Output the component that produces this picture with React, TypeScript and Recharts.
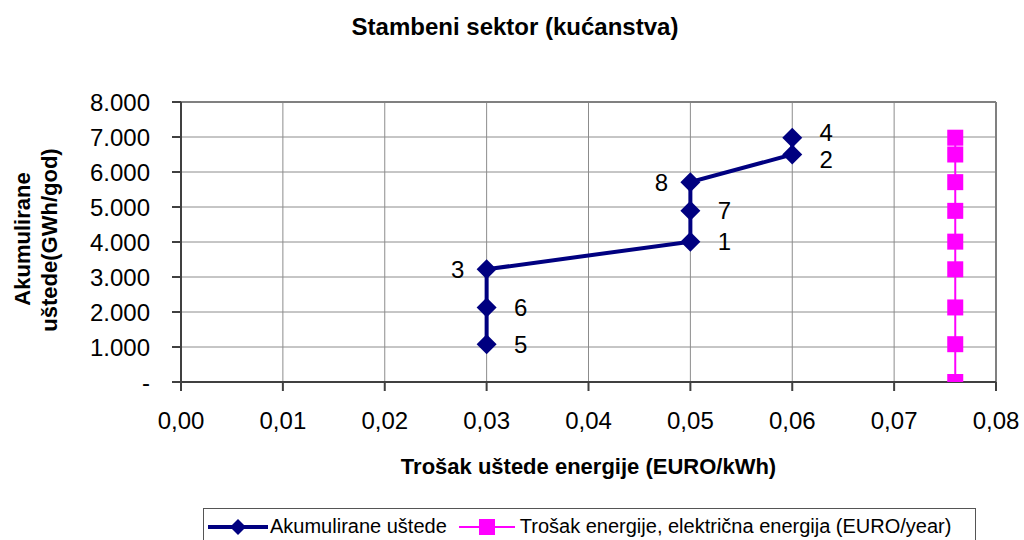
import React from 'react';
import { ScatterChart, Scatter, XAxis, YAxis, CartesianGrid, ReferenceLine } from 'recharts';

// Akumulirane uštede: cost of saved energy (EURO/kWh) vs cumulative savings (GWh/god)
const measureIds = ['5', '6', '3', '1', '7', '8', '2', '4'];
const savingCost = [0.03, 0.03, 0.03, 0.05, 0.05, 0.05, 0.06, 0.06];
const cumulativeSavings = [1080, 2130, 3220, 4010, 4890, 5710, 6500, 6980];
const labelSide = ['right', 'right', 'left', 'right', 'right', 'left', 'right', 'right'];

// Trošak energije, električna energija
const energyPrice = 0.076;
const energyPriceLevels = [0, 1080, 2130, 3220, 4010, 4890, 5710, 6500, 6980];

const xTicks = [0, 0.01, 0.02, 0.03, 0.04, 0.05, 0.06, 0.07, 0.08];
const yTicks = [0, 1000, 2000, 3000, 4000, 5000, 6000, 7000, 8000];

const TITLE = 'Stambeni sektor (kućanstva)';
const X_TITLE = 'Trošak uštede energije (EURO/kWh)';
const Y_TITLE = ['Akumulirane', 'uštede(GWh/god)'];
const LEGEND = ['Akumulirane uštede', 'Trošak energije, električna energija (EURO/year)'];

const NAVY = '#000080';
const MAGENTA = '#FF00FF';
const GRID = '#8c8c8c';
const AXIS = '#404040';
const FONT = '"Liberation Sans", Arial, sans-serif';

// labels of points that sit close together on the same x get pushed apart a little
const crowded = (i: number, j: number) =>
  j >= 0 && j < savingCost.length && savingCost[j] === savingCost[i] &&
  Math.abs(cumulativeSavings[j] - cumulativeSavings[i]) < 600;

const savingsData = measureIds.map((id, i) => ({
  x: savingCost[i],
  y: cumulativeSavings[i],
  id,
  side: labelSide[i],
  nudge: crowded(i, i - 1) ? -5 : crowded(i, i + 1) ? 5 : 0,
}));
const priceData = energyPriceLevels.map(y => ({ x: energyPrice, y }));

const fmtX = (v: number) => v.toFixed(2).replace('.', ',');
const fmtY = (v: number) => (v === 0 ? '-' : `${v / 1000}.000`);

const DiamondWithLabel = (props: any) => {
  const { cx, cy, payload } = props;
  const r = 10;
  const left = payload.side === 'left';
  return (
    <g>
      <path d={`M${cx},${cy - r}L${cx + r},${cy}L${cx},${cy + r}L${cx - r},${cy}Z`} fill={NAVY} />
      <text
        x={left ? cx - 29 : cx + 34}
        y={cy + payload.nudge}
        dy="0.35em"
        textAnchor="middle"
        fontSize={24}
        fontFamily={FONT}
        fill="#000"
      >
        {payload.id}
      </text>
    </g>
  );
};

const Square = (props: any) => {
  const { cx, cy } = props;
  const s = 8;
  return <rect x={cx - s} y={cy - s} width={s * 2} height={s * 2} fill={MAGENTA} />;
};

const XTitle = (props: any) => {
  const { viewBox } = props;
  return (
    <text x={viewBox.x + viewBox.width / 2} y={474} textAnchor="middle" fontSize={22} fontWeight="bold" fontFamily={FONT} fill="#000">
      {X_TITLE}
    </text>
  );
};

export default function App() {
  return (
    <div style={{ position: 'absolute', left: 0, top: 0, width: 1024, height: 540, overflow: 'hidden', background: '#fff', fontFamily: FONT }}>
      <ScatterChart width={1024} height={540} margin={{ top: 102, right: 28, bottom: 0, left: 0 }}>
        <CartesianGrid stroke={GRID} strokeWidth={1} />
        <XAxis
          dataKey="x"
          type="number"
          domain={[0, 0.08]}
          ticks={xTicks}
          tickFormatter={fmtX}
          tick={{ fontSize: 24, fill: '#000', fontFamily: FONT }}
          tickSize={9}
          tickMargin={21}
          height={158}
          stroke={AXIS}
          strokeWidth={2}
          label={<XTitle />}
          allowDataOverflow
        />
        <YAxis
          dataKey="y"
          type="number"
          domain={[0, 8000]}
          ticks={yTicks}
          tickFormatter={fmtY}
          tick={{ fontSize: 24, fill: '#000', fontFamily: FONT }}
          tickSize={9}
          tickMargin={22}
          width={181}
          stroke={AXIS}
          strokeWidth={2}
          allowDataOverflow
        />
        <ReferenceLine y={8000} stroke="#808080" strokeWidth={2} />
        <ReferenceLine x={0.08} stroke="#808080" strokeWidth={2} />
        <Scatter
          data={priceData}
          line={{ stroke: MAGENTA, strokeWidth: 2 }}
          shape={<Square />}
          isAnimationActive={false}
        />
        <Scatter
          data={savingsData}
          line={{ stroke: NAVY, strokeWidth: 4 }}
          shape={<DiamondWithLabel />}
          isAnimationActive={false}
        />
      </ScatterChart>

      <svg width={1024} height={540} style={{ position: 'absolute', left: 0, top: 0, pointerEvents: 'none' }}>
        <text x={515} y={35} textAnchor="middle" fontSize={24} fontWeight="bold" fontFamily={FONT} fill="#000">
          {TITLE}
        </text>
        <text transform="translate(30,239) rotate(-90)" textAnchor="middle" fontSize={22} fontWeight="bold" fontFamily={FONT} fill="#000">
          {Y_TITLE[0]}
        </text>
        <text transform="translate(57,240) rotate(-90)" textAnchor="middle" fontSize={22} fontWeight="bold" fontFamily={FONT} fill="#000">
          {Y_TITLE[1]}
        </text>
      </svg>

      <div style={{ position: 'absolute', left: 203, top: 508, width: 773, height: 40, border: '1px solid #555', boxSizing: 'border-box', display: 'flex', alignItems: 'flex-start', paddingTop: 6, paddingLeft: 4, fontSize: 20, color: '#000', whiteSpace: 'nowrap' }}>
        <svg width={60} height={20} style={{ marginTop: 2 }}>
          <line x1={0} y1={10} x2={60} y2={10} stroke={NAVY} strokeWidth={4} />
          <path d="M30,2L38,10L30,18L22,10Z" fill={NAVY} />
        </svg>
        <span style={{ marginLeft: 2 }}>{LEGEND[0]}</span>
        <svg width={56} height={20} style={{ marginLeft: 12, marginTop: 2 }}>
          <line x1={0} y1={10} x2={56} y2={10} stroke={MAGENTA} strokeWidth={2} />
          <rect x={20} y={2} width={16} height={16} fill={MAGENTA} />
        </svg>
        <span style={{ marginLeft: 5 }}>{LEGEND[1]}</span>
      </div>
    </div>
  );
}
